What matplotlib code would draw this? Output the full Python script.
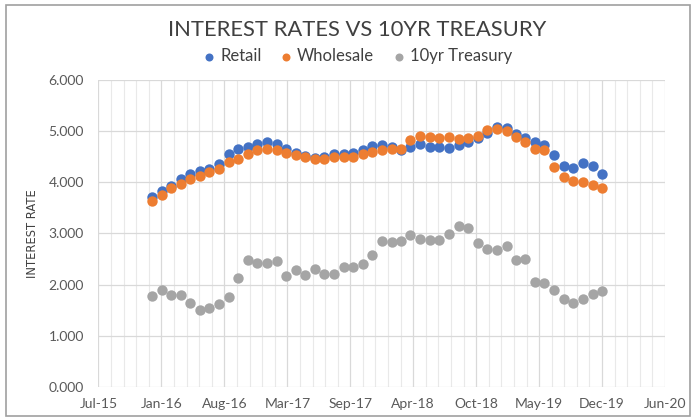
import numpy as np
import pandas as pd
import matplotlib
matplotlib.use('Agg')
import matplotlib.pyplot as plt
import matplotlib.dates as mdates
from matplotlib.patches import Rectangle

# monthly observations, Jan-16 .. Dec-19
months = pd.date_range('2016-01-01', periods=48, freq='MS')

retail = [3.72, 3.83, 3.93, 4.07, 4.16, 4.22, 4.26, 4.36, 4.56, 4.65, 4.70, 4.75,
          4.79, 4.75, 4.65, 4.58, 4.52, 4.47, 4.49, 4.56, 4.55, 4.58, 4.64, 4.71,
          4.72, 4.69, 4.63, 4.69, 4.74, 4.70, 4.70, 4.68, 4.73, 4.78, 4.86, 4.97,
          5.08, 5.06, 4.94, 4.86, 4.79, 4.73, 4.53, 4.32, 4.28, 4.37, 4.31, 4.16]

wholesale = [3.64, 3.76, 3.88, 3.96, 4.06, 4.13, 4.21, 4.26, 4.39, 4.46, 4.55, 4.64,
             4.66, 4.64, 4.58, 4.53, 4.49, 4.45, 4.46, 4.49, 4.49, 4.49, 4.55, 4.59,
             4.63, 4.66, 4.66, 4.82, 4.90, 4.88, 4.87, 4.88, 4.84, 4.87, 4.91, 5.02,
             5.05, 5.01, 4.89, 4.79, 4.66, 4.64, 4.30, 4.11, 4.03, 4.00, 3.95, 3.89]

treasury = [1.78, 1.89, 1.80, 1.80, 1.64, 1.50, 1.55, 1.63, 1.75, 2.13, 2.48, 2.42,
            2.42, 2.47, 2.17, 2.29, 2.19, 2.31, 2.20, 2.20, 2.35, 2.35, 2.40, 2.57,
            2.85, 2.83, 2.86, 2.98, 2.90, 2.88, 2.88, 2.99, 3.14, 3.11, 2.82, 2.70,
            2.68, 2.75, 2.49, 2.51, 2.06, 2.03, 1.89, 1.72, 1.64, 1.72, 1.82, 1.88]

series_names = ['Retail', 'Wholesale', '10yr Treasury']
series_colors = ['#4472c4', '#ed7d31', '#a5a5a5']

# excel-style date axis: auto min, 200 day major unit, 40 day minor unit
x_start = pd.Timestamp('2015-07-15')
major_days = 200
minor_days = 40
n_major = 9

plt.rcParams['font.family'] = ['Lato', 'DejaVu Sans']

fig = plt.figure(figsize=(6.96, 4.2), dpi=100)
ax = fig.add_axes([0.1415, 0.0786, 0.9555-0.1415, 0.8095-0.0786])

x0 = mdates.date2num(x_start)
ax.set_xlim(x0, x0 + n_major*major_days)
ax.set_xticks(x0 + np.arange(0, n_major*major_days+1, major_days))
ax.set_xticks(x0 + np.arange(0, n_major*major_days+1, minor_days), minor=True)
ax.xaxis.set_major_formatter(mdates.DateFormatter('%b-%y'))

ax.set_ylim(0, 6)
ax.set_yticks(np.arange(0, 6.01, 1.0))
ax.yaxis.set_major_formatter(matplotlib.ticker.FormatStrFormatter('%.3f'))

ax.grid(which='major', color='#d9d9d9', lw=0.9)
ax.grid(which='minor', axis='x', color='#e9e9e9', lw=0.8)
ax.set_axisbelow(True)
for sp in ax.spines.values():
    sp.set_visible(False)
ax.tick_params(which='both', length=0, colors='#595959', labelsize=10)
ax.tick_params(axis='x', pad=8)
ax.tick_params(axis='y', pad=10.5)

for vals, name, col in zip([retail, wholesale, treasury], series_names, series_colors):
    ax.scatter(months, vals, s=56, color=col, label=name, zorder=3, linewidths=0)

ax.set_ylabel('INTEREST RATE', fontsize=8.3, color='#404040',
              family=['Liberation Sans Narrow', 'DejaVu Sans'])
ax.yaxis.set_label_coords(-0.105, 0.5)

fig.text(0.513, 0.928, 'INTEREST RATES VS 10YR TREASURY', ha='center', va='center',
         fontsize=15.8, color='#404040')
fig.legend(loc='center', bbox_to_anchor=(0.5134, 0.8667), ncol=3, frameon=False,
           fontsize=12, handletextpad=0.26, handlelength=0.8, columnspacing=1.08,
           markerscale=0.77, labelcolor='#404040', borderpad=0.2)

fig.patches.append(Rectangle((0.009, 0.009), 0.982, 0.98, transform=fig.transFigure,
                             fill=False, edgecolor='#a0a0a0', lw=1.2))

fig.savefig('out.png', dpi=100)
